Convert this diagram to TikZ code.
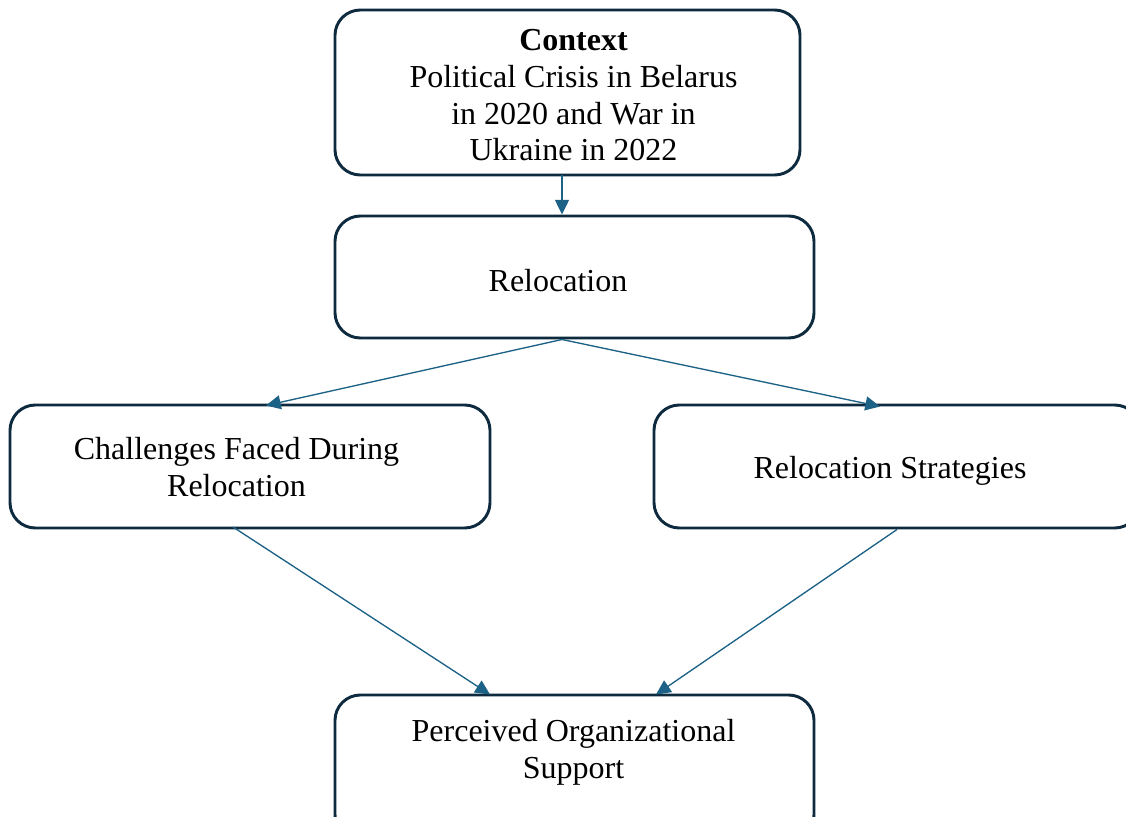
\documentclass[tikz,border=0pt]{standalone}
\usepackage{fontspec}
\setmainfont{Liberation Serif}
\usetikzlibrary{arrows.meta}
\definecolor{boxline}{HTML}{0E2A3E}
\definecolor{arrowc}{HTML}{1C6186}
\begin{document}
\begin{tikzpicture}[x=0.75pt,y=-0.75pt,
  box/.style={draw=boxline, line width=2.2pt, rounded corners=19pt, fill=white, inner sep=0pt, outer sep=0pt},
  txt/.style={align=center, font=\fontsize{24pt}{27.5pt}\selectfont, inner sep=0pt},
  conn/.style={draw=arrowc, line width=1pt, -{Triangle[length=11pt,width=10.5pt]}}]
\useasboundingbox (0,0) rectangle (1126,816);
\clip (0,0) rectangle (1126,816);
\fill[white] (0,0) rectangle (1126,816);
\node[box, minimum width=348.75pt, minimum height=123.75pt] (ctx) at (567.5,92.5) {};
\node[box, minimum width=359.25pt, minimum height=91.5pt] (rel) at (574.5,277) {};
\node[box, minimum width=360pt, minimum height=92.25pt] (chal) at (250,466.5) {};
\node[box, minimum width=364.5pt, minimum height=92.25pt] (strat) at (897,466.5) {};
\node[box, minimum width=359.25pt, minimum height=108.75pt] (pos) at (574.5,767.5) {};
\node[txt] (ctxt) at (573.5,95.5) {\textbf{Context}\\Political Crisis in Belarus\\in 2020 and War in\\Ukraine in 2022};
\node[txt] (relt) at (558,281) {Relocation};
\node[txt] (chalt) at (236.5,467) {Challenges Faced During\\Relocation};
\node[txt] (stratt) at (890,471) {Relocation Strategies};
\node[txt] (post) at (573.5,752) {Perceived Organizational\\Support};
\coordinate (c1) at (562,175);
\coordinate (r0) at (562,214.5);
\coordinate (r1) at (562,339.5);
\coordinate (h0) at (266,405.5);
\coordinate (s0) at (880,406.5);
\coordinate (h1) at (233,527);
\coordinate (s1) at (897,529.5);
\coordinate (p0) at (490,694.5);
\coordinate (p1) at (656,694.5);
\draw[conn] (c1) -- (r0);
\draw[conn] (r1) -- (h0);
\draw[conn] (r1) -- (s0);
\draw[conn] (h1) -- (p0);
\draw[conn] (s1) -- (p1);
\end{tikzpicture}
\end{document}
